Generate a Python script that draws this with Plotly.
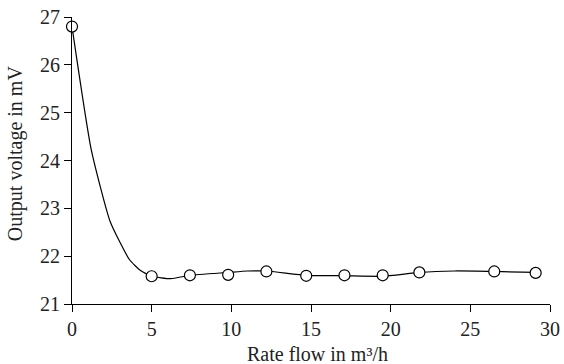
import plotly.graph_objects as go

# measured points (markers)
flow_pts = [0, 5.0, 7.4, 9.8, 12.2, 14.7, 17.1, 19.5, 21.8, 26.5, 29.1]
volt_pts = [26.8, 21.58, 21.6, 21.61, 21.68, 21.59, 21.6, 21.6, 21.66, 21.68, 21.65]

# fitted curve
flow_curve = [0, 1.2, 2.4, 3.6, 4.3, 5.0, 6.2, 7.4, 9.8, 11.0, 12.2, 14.7, 17.1, 19.5, 21.8, 24.0, 26.5, 29.1]
volt_curve = [26.8, 24.24, 22.72, 21.93, 21.7, 21.58, 21.53, 21.6, 21.66, 21.69, 21.69, 21.6, 21.59, 21.58, 21.66, 21.69, 21.68, 21.66]

x_ticks = [0, 5, 10, 15, 20, 25, 30]
y_ticks = [21, 22, 23, 24, 25, 26, 27]

x_title = "Rate flow in m³/h"
y_title = "Output voltage in mV"

fig = go.Figure()
fig.add_trace(go.Scatter(x=flow_curve, y=volt_curve, mode="lines",
                         line=dict(color="black", width=1.2, shape="spline", smoothing=0.5),
                         showlegend=False, hoverinfo="skip", cliponaxis=False))
fig.add_trace(go.Scatter(x=flow_pts, y=volt_pts, mode="markers",
                         marker=dict(symbol="circle", size=11, color="white",
                                     line=dict(color="black", width=1.2)),
                         showlegend=False, cliponaxis=False))

font = dict(family="Liberation Serif, Times New Roman, serif", size=20, color="#222")
axis_common = dict(ticks="outside", ticklen=7, tickwidth=1.2, tickcolor="black",
                   showline=True, linecolor="black", linewidth=1.2,
                   showgrid=False, zeroline=False, automargin=False,
                   ticklabeloverflow="allow")
fig.update_layout(
    width=564, height=364,
    margin=dict(l=72, r=14, t=17, b=60),
    paper_bgcolor="white", plot_bgcolor="white",
    font=font,
    xaxis=dict(range=[0, 30], tickvals=x_ticks, **axis_common),
    yaxis=dict(range=[21, 27], tickvals=y_ticks, **axis_common),
    annotations=[
        dict(text=x_title, xref="paper", yref="paper", x=0.513, y=-0.174,
             xanchor="center", yanchor="middle", showarrow=False, font=font),
        dict(text=y_title, xref="paper", yref="paper", x=-0.119, y=0.526,
             xanchor="center", yanchor="middle", textangle=-90, showarrow=False, font=font),
    ],
)
fig.write_html("out.html", config={"displayModeBar": False},
               post_script="document.body.style.margin='0';")
